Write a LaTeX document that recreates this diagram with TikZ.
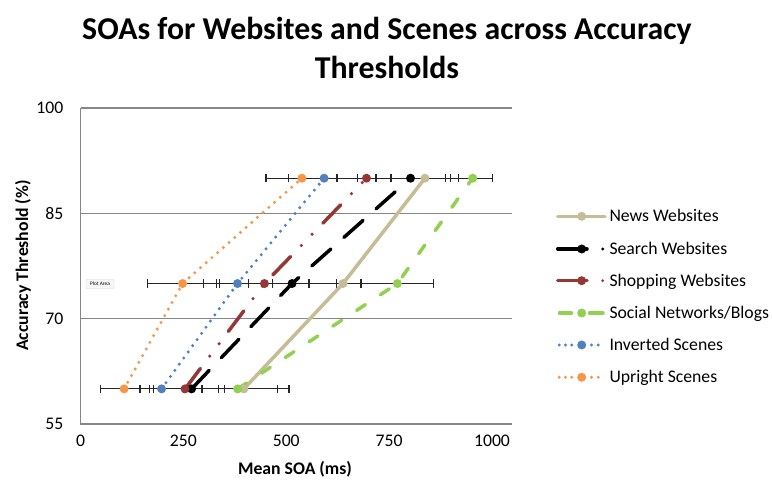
\documentclass[tikz,border=0pt]{standalone}
\usepackage{fontspec}
\setmainfont{Carlito}
\usetikzlibrary{arrows.meta}
\definecolor{cNews}{RGB}{196,189,151}
\definecolor{cShop}{RGB}{149,55,53}
\definecolor{cSocial}{RGB}{146,208,80}
\definecolor{cInv}{RGB}{79,129,189}
\definecolor{cUp}{RGB}{247,150,70}
\definecolor{cGrid}{RGB}{134,134,134}
\begin{document}
\begin{tikzpicture}[x=1pt,y=1pt,
  ser/.style={line width=3.5pt,line cap=round,line join=round},
  news/.style={ser,draw=cNews},
  search/.style={ser,draw=black,dash pattern=on 25.5pt off 17.5pt},
  shop/.style={ser,draw=cShop,dash pattern=on 25.5pt off 15.5pt on 0pt off 15.5pt on 0pt off 15.5pt},
  social/.style={ser,draw=cSocial,dash pattern=on 10.5pt off 18pt},
  dotser/.style={line width=3.3pt,line cap=round,dash pattern=on 0pt off 7.6pt},
  inv/.style={dotser,draw=cInv},
  up/.style={dotser,draw=cUp},
  mk/.style={circle,inner sep=0pt,minimum size=9pt,draw=none},
  grid/.style={draw=cGrid,line width=1.3pt},
  ebar/.style={draw=black!85,line width=1.2pt,{Bar[width=8.5pt,line width=1.2pt]}-{Bar[width=8.5pt,line width=1.2pt]}},
  lbl/.style={font=\fontsize{17.7}{20}\selectfont,inner sep=0pt},
  bold lbl/.style={font=\fontsize{17.7}{20}\selectfont\bfseries,inner sep=0pt}]
\useasboundingbox (0,0) rectangle (772,481);
\fill[white] (0,0) rectangle (772,481);

% title
\node[font=\fontsize{31.8}{38}\selectfont\bfseries,inner sep=0pt,anchor=base] (title1) at (387,441.5) {SOAs for Websites and Scenes across Accuracy};
\node[font=\fontsize{31.8}{38}\selectfont\bfseries,inner sep=0pt,anchor=base] (title2) at (387,402) {Thresholds};

% axis titles
\node[bold lbl,anchor=base] (xtitle) at (295,6) {Mean SOA (ms)};
\node[bold lbl,anchor=base,rotate=90] (ytitle) at (28,215.5) {Accuracy Threshold (\%)};

% data frame: x in ms, y in percent
\begin{scope}[shift={(80.5,-329.2)},x=0.4115pt,y=7.022pt]
  % gridlines and axes
  \foreach \g in {70,85,100} \draw[grid] (0,\g) -- (1049,\g);
  \draw[grid] (0,100) -- (0,55) -- (1049,55);
  % tick labels
  \foreach \v in {0,250,500,750,1000}
    \node[lbl,anchor=base] (xl\v) at (\v,55) [yshift=-22.5pt] {\v};
  \foreach \v in {55,70,85,100}
    \node[lbl,anchor=base east] (yl\v) at (0,\v) [xshift=-17pt,yshift=-5.7pt] {\v};

  % error bars
  \foreach \a/\b/\c in {449.5/624/90,504/675/90,624/755/90,716.5/889/90,755/921/90,898.5/1002/90,
                        162/332/75,297/468/75,337/555/75,406/623/75,555/681/75,681/859/75,
                        47/169/60,143/251/60,175/336/60,175/352/60,294/480/60,294/508/60}
    \draw[ebar] (\a,\c) -- (\b,\c);

  % series points
  \coordinate (n60) at (397,60);  \coordinate (n75) at (638,75);  \coordinate (n90) at (837,90);
  \coordinate (s60) at (270,60);  \coordinate (s75) at (514,75);  \coordinate (s90) at (802,90);
  \coordinate (h60) at (254,60);  \coordinate (h75) at (447,75);  \coordinate (h90) at (695,90);
  \coordinate (b60) at (382,60);  \coordinate (b75) at (770,75);  \coordinate (b90) at (953,90);
  \coordinate (i60) at (197,60);  \coordinate (i75) at (381.5,75); \coordinate (i90) at (592,90);
  \coordinate (u60) at (106,60);  \coordinate (u75) at (248,75);  \coordinate (u90) at (538,90);

  % series lines
  \draw[news]   (n60) -- (n75) -- (n90);
  \draw[search] (s60) -- (s75) -- (s90);
  \draw[shop]   (h60) -- (h75) -- (h90);
  \draw[social] (b60) -- (b75) -- (b90);
  \draw[inv]    (i60) -- (i75) -- (i90);
  \draw[up]     (u60) -- (u75) -- (u90);

  % markers
  \foreach \p/\c in {n/cNews,s/black,h/cShop,b/cSocial,i/cInv,u/cUp}
    \foreach \r in {60,75,90}
      \node[mk,fill=\c] at (\p\r) {};
\end{scope}

% hover tag left inside the plot area
\node[draw=gray!35,fill=gray!6,rounded corners=0.8pt,inner sep=1.2pt,
      minimum width=28pt,minimum height=9pt,font=\fontsize{5.3}{6}\selectfont] (tag) at (100,197) {Plot Area};

% legend
\begin{scope}[shift={(0,0)}]
  % News
  \coordinate (ln) at (557.7,264.7);
  \draw[news] (ln) -- ++(47.3,0);
  \node[mk,fill=cNews] at (581.7,264.7) {};
  \node[lbl,anchor=base west] (tn) at (609.3,259) {News Websites};
  % Search
  \draw[ser,draw=black] (557.7,232) -- (587,232);
  \node[mk,fill=black] at (581.7,232) {};
  \fill[black] (602.7,232) circle (1.6);
  \node[lbl,anchor=base west] (ts) at (609.3,226.3) {Search Websites};
  % Shopping
  \draw[ser,draw=cShop] (557.7,200.3) -- (587,200.3);
  \node[mk,fill=cShop] at (581.7,200.3) {};
  \fill[cShop] (602.7,200.3) circle (1.6);
  \node[lbl,anchor=base west] (th) at (609.3,194.6) {Shopping Websites};
  % Social
  \draw[ser,draw=cSocial] (559.5,168) -- (571.5,168);
  \draw[ser,draw=cSocial] (589.5,168) -- (603,168);
  \node[mk,fill=cSocial] at (581.7,168) {};
  \node[lbl,anchor=base west] (tb) at (609.3,162.3) {Social Networks/Blogs};
  % Inverted
  \foreach \x in {559.3,565.5,571.7,591.5,598.3} \fill[cInv] (\x,136) circle (1.65);
  \node[mk,fill=cInv] at (581.7,136) {};
  \node[lbl,anchor=base west] (ti) at (609.3,130.3) {Inverted Scenes};
  % Upright
  \foreach \x in {559.3,565.5,571.7,591.5,598.3} \fill[cUp] (\x,103.7) circle (1.65);
  \node[mk,fill=cUp] at (581.7,103.7) {};
  \node[lbl,anchor=base west] (tu) at (609.3,98) {Upright Scenes};
\end{scope}
\end{tikzpicture}
\end{document}
